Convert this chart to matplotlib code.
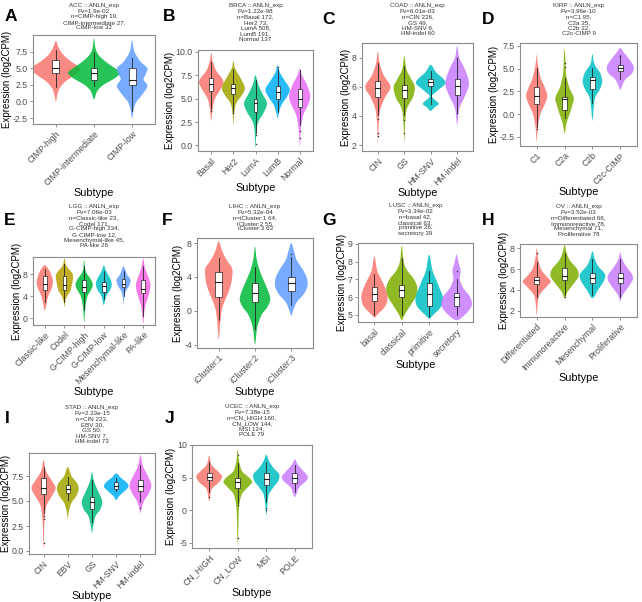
import numpy as np
import matplotlib
matplotlib.use("Agg")
import matplotlib.pyplot as plt
from matplotlib.path import Path
from matplotlib.patches import PathPatch, Rectangle

plt.rcParams['font.family'] = ['Liberation Sans', 'DejaVu Sans']

# ggplot hue palettes
pal = {
    3: ["#F8766D", "#00BA38", "#619CFF"],
    4: ["#F8766D", "#7CAE00", "#00BFC4", "#C77CFF"],
    5: ["#F8766D", "#A3A500", "#00BF7D", "#00B0F6", "#E76BF3"],
    6: ["#F8766D", "#B79F00", "#00BA38", "#00BFC4", "#619CFF", "#F564E3"],
}

# ---- A: ACC ----
acc_groups = ["CIMP-high", "CIMP-intermediate", "CIMP-low"]
acc_n = [19, 27, 32]
acc_pv = "1.9e-02"
acc_prof = [
    [(9.1, 0), (8.0, 0.08), (7.0, 0.2), (6.0, 0.4), (5.0, 0.64), (4.0, 0.5), (3.0, 0.25), (2.0, 0.1), (1.0, 0.04), (0.0, 0)],
    [(9.5, 0), (8.0, 0.04), (7.0, 0.12), (6.0, 0.3), (5.0, 0.55), (4.3, 0.68), (3.5, 0.55), (2.5, 0.25), (1.5, 0.08), (0.3, 0)],
    [(9.2, 0), (7.5, 0.06), (6.0, 0.22), (5.0, 0.4), (4.0, 0.35), (3.3, 0.3), (2.3, 0.4), (1.0, 0.26), (0.0, 0.12), (-1.0, 0.05), (-2.5, 0)],
]
acc_box = [(2.2, 4.3, 5.0, 6.2, 7.7), (2.3, 3.2, 4.3, 5.1, 7.4), (-1.5, 2.4, 3.2, 5.1, 6.5)]
acc_out = [[], [], []]

# ---- B: BRCA ----
brca_groups = ["Basal", "Her2", "LumA", "LumB", "Normal"]
brca_n = [172, 73, 508, 191, 137]
brca_pv = "1.22e-98"
brca_prof = [
    [(9.9, 0), (9.0, 0.07), (8.0, 0.22), (7.2, 0.48), (6.7, 0.55), (6.0, 0.42), (5.0, 0.17), (4.0, 0.07), (2.7, 0)],
    [(9.0, 0), (8.2, 0.08), (7.2, 0.32), (6.2, 0.52), (5.5, 0.42), (4.5, 0.13), (3.5, 0.04), (2.2, 0)],
    [(7.5, 0), (6.5, 0.12), (5.5, 0.32), (4.5, 0.52), (3.5, 0.37), (2.5, 0.12), (1.5, 0.04), (-0.3, 0)],
    [(8.6, 0), (7.8, 0.1), (7.0, 0.3), (6.0, 0.55), (5.2, 0.42), (4.3, 0.17), (3.5, 0.06), (2.9, 0)],
    [(8.2, 0), (7.5, 0.1), (6.5, 0.32), (5.3, 0.48), (4.3, 0.37), (3.3, 0.17), (2.0, 0.06), (0.5, 0.02), (-0.2, 0)],
]
brca_box = [(3.9, 5.8, 6.6, 7.2, 8.9), (3.6, 5.5, 6.1, 6.6, 8.2), (1.3, 3.6, 4.5, 5.0, 7.0),
            (3.6, 5.0, 5.7, 6.3, 8.2), (2.2, 4.1, 5.0, 6.0, 8.1)]
brca_out = [[3.7], [3.5], [0.2, 1.1], [8.4], [0.8, 1.5]]

# ---- C: COAD ----
coad_groups = ["CIN", "GS", "HM-SNV", "HM-indel"]
coad_n = [226, 49, 6, 60]
coad_pv = "6.01e-03"
coad_prof = [
    [(8.4, 0), (7.6, 0.07), (6.8, 0.22), (6.0, 0.48), (5.3, 0.28), (4.5, 0.1), (3.5, 0.03), (2.0, 0)],
    [(8.1, 0), (7.2, 0.08), (6.5, 0.27), (6.0, 0.4), (5.3, 0.33), (4.5, 0.1), (3.5, 0.03), (2.1, 0)],
    [(7.5, 0), (7.0, 0.2), (6.5, 0.5), (6.2, 0.55), (5.8, 0.3), (5.4, 0.05), (5.2, 0.1), (4.85, 0.3), (4.6, 0.15), (4.35, 0)],
    [(8.8, 0), (8.0, 0.08), (7.3, 0.27), (6.5, 0.43), (6.0, 0.43), (5.3, 0.28), (4.5, 0.08), (3.4, 0)],
]
coad_box = [(4.07, 5.33, 5.95, 6.37, 7.6), (4.07, 5.22, 5.8, 6.14, 7.4),
            (4.8, 6.07, 6.3, 6.53, 7.05), (4.2, 5.45, 6.07, 6.5, 7.98)]
coad_out = [[3.8, 2.8, 2.6], [3.7, 2.8], [], [8.0, 4.2]]

# ---- D: KIRP ----
kirp_groups = ["C1", "C2a", "C2b", "C2c-CIMP"]
kirp_n = [95, 35, 22, 9]
kirp_pv = "3.96e-10"
kirp_prof = [
    [(6.5, 0), (5.5, 0.04), (4.0, 0.14), (3.0, 0.28), (2.0, 0.38), (1.0, 0.28), (0.0, 0.13), (-1.5, 0.04), (-3.0, 0)],
    [(7.2, 0), (6.0, 0.03), (4.5, 0.05), (3.0, 0.16), (1.8, 0.33), (1.0, 0.28), (0.0, 0.18), (-1.0, 0.07), (-2.1, 0)],
    [(6.6, 0), (5.5, 0.07), (4.5, 0.28), (3.6, 0.35), (2.8, 0.28), (1.8, 0.1), (0.5, 0.04), (-0.8, 0)],
    [(7.25, 0), (6.7, 0.14), (6.0, 0.33), (5.2, 0.48), (4.5, 0.43), (3.8, 0.18), (3.2, 0.08), (2.66, 0)],
]
kirp_box = [(-1.37, 1.13, 2.04, 2.96, 5.05), (-0.45, 0.47, 1.68, 1.93, 3.95),
            (1.2, 2.74, 3.69, 4.06, 5.05), (3.84, 4.68, 5.05, 5.41, 6.5)]
kirp_out = [[-1.6], [5.6, 5.2], [], [6.4]]

# ---- E: LGG ----
lgg_groups = ["Classic-like", "Codel", "G-CIMP-high", "G-CIMP-low", "Mesenchymal-like", "PA-like"]
lgg_n = [23, 171, 234, 12, 45, 26]
lgg_pv = "7.06e-03"
lgg_prof = [
    [(9.6, 0), (8.5, 0.25), (7.0, 0.4), (6.0, 0.4), (5.0, 0.3), (4.0, 0.17), (2.5, 0.08), (1.4, 0)],
    [(10.8, 0), (9.5, 0.1), (8.0, 0.42), (6.5, 0.4), (5.0, 0.3), (4.0, 0.13), (3.0, 0.04), (2.0, 0)],
    [(10.5, 0), (8.5, 0.08), (7.0, 0.35), (6.0, 0.44), (5.0, 0.33), (4.0, 0.17), (2.0, 0.06), (-0.7, 0)],
    [(9.6, 0), (8.5, 0.12), (7.0, 0.35), (6.0, 0.4), (5.0, 0.3), (4.0, 0.12), (2.4, 0)],
    [(9.4, 0), (8.0, 0.17), (7.0, 0.35), (6.0, 0.3), (5.0, 0.13), (4.0, 0.04), (2.4, 0)],
    [(10.8, 0), (9.0, 0.1), (7.5, 0.26), (6.0, 0.37), (4.5, 0.3), (3.0, 0.17), (1.5, 0.07), (-0.9, 0)],
]
lgg_box = [(3.0, 5.2, 6.2, 7.6, 9.0), (3.0, 5.1, 6.1, 7.6, 9.8), (1.5, 4.8, 5.7, 7.0, 9.5),
           (3.5, 4.8, 5.8, 6.6, 8.5), (4.0, 5.7, 6.3, 7.2, 8.5), (0.5, 4.5, 5.4, 6.9, 9.5)]
lgg_out = [[], [], [], [], [], []]

# ---- F: LIHC ----
lihc_groups = ["iCluster:1", "iCluster:2", "iCluster:3"]
lihc_n = [64, 55, 63]
lihc_pv = "5.32e-04"
lihc_prof = [
    [(8.2, 0), (7.0, 0.1), (6.0, 0.22), (5.0, 0.37), (4.0, 0.37), (3.0, 0.33), (2.0, 0.25), (1.0, 0.15), (0.0, 0.08), (-1.5, 0.04), (-3.4, 0)],
    [(7.6, 0), (6.0, 0.05), (4.5, 0.15), (3.0, 0.3), (1.5, 0.42), (0.5, 0.35), (-0.5, 0.18), (-2.0, 0.06), (-4.0, 0)],
    [(8.0, 0), (7.0, 0.08), (6.0, 0.15), (5.0, 0.3), (4.0, 0.42), (3.0, 0.45), (2.0, 0.35), (1.0, 0.15), (0.0, 0.05), (-0.6, 0)],
]
lihc_box = [(-1.1, 1.65, 3.45, 4.6, 6.2), (-2.0, 1.0, 2.1, 3.25, 5.2), (0.7, 2.3, 3.25, 4.05, 6.3)]
lihc_out = [[], [-2.1], [6.7]]

# ---- G: LUSC ----
lusc_groups = ["basal", "classical", "primitive", "secretory"]
lusc_n = [42, 63, 26, 39]
lusc_pv = "3.34e-02"
lusc_prof = [
    [(8.3, 0), (7.5, 0.1), (7.0, 0.25), (6.5, 0.4), (6.0, 0.48), (5.5, 0.4), (5.0, 0.1), (4.85, 0)],
    [(8.9, 0), (8.0, 0.07), (7.5, 0.2), (7.0, 0.45), (6.5, 0.57), (6.0, 0.5), (5.5, 0.3), (5.0, 0.1), (4.7, 0)],
    [(8.4, 0), (7.5, 0.12), (7.0, 0.25), (6.5, 0.38), (6.0, 0.5), (5.5, 0.45), (5.0, 0.15), (4.8, 0)],
    [(8.4, 0), (7.9, 0.08), (7.5, 0.15), (7.0, 0.12), (6.5, 0.25), (6.0, 0.5), (5.5, 0.55), (5.0, 0.3), (4.7, 0)],
]
lusc_box = [(5.0, 5.8, 6.2, 6.57, 7.33), (5.0, 6.0, 6.4, 6.67, 8.2),
            (4.9, 5.5, 6.2, 6.77, 7.5), (5.0, 5.5, 6.0, 6.23, 7.0)]
lusc_out = [[], [8.1], [], [7.5]]

# ---- H: OV ----
ov_groups = ["Differentiated", "Immunoreactive", "Mesenchymal", "Proliferative"]
ov_n = [66, 78, 71, 78]
ov_pv = "3.52e-03"
ov_prof = [
    [(8.0, 0), (7.0, 0.05), (6.0, 0.15), (5.3, 0.35), (4.8, 0.5), (4.3, 0.35), (3.5, 0.1), (2.5, 0.03), (1.5, 0)],
    [(8.3, 0), (7.5, 0.08), (6.8, 0.2), (6.0, 0.45), (5.3, 0.5), (4.5, 0.3), (3.8, 0.1), (3.2, 0)],
    [(7.7, 0), (7.0, 0.08), (6.3, 0.2), (5.5, 0.45), (4.8, 0.4), (4.0, 0.2), (3.2, 0)],
    [(7.6, 0), (7.0, 0.06), (6.3, 0.2), (5.5, 0.42), (5.0, 0.45), (4.3, 0.3), (3.5, 0.08), (2.9, 0)],
]
ov_box = [(3.3, 4.57, 4.95, 5.27, 6.7), (3.5, 4.95, 5.33, 6.07, 7.5),
          (3.5, 4.64, 5.1, 5.6, 7.0), (3.3, 4.64, 5.15, 5.6, 7.0)]
ov_out = [[7.5, 1.0], [3.3], [], []]

# ---- I: STAD ----
stad_groups = ["CIN", "EBV", "GS", "HM-SNV", "HM-indel"]
stad_n = [223, 30, 50, 7, 73]
stad_pv = "2.33e-15"
stad_prof = [
    [(9.1, 0), (8.0, 0.1), (7.0, 0.35), (6.3, 0.5), (5.5, 0.35), (4.5, 0.12), (3.0, 0.04), (1.5, 0.02), (0.1, 0)],
    [(8.4, 0), (7.5, 0.15), (6.8, 0.38), (6.2, 0.45), (5.5, 0.35), (4.8, 0.15), (4.0, 0.05), (3.3, 0)],
    [(7.9, 0), (7.0, 0.08), (6.0, 0.25), (5.0, 0.42), (4.2, 0.35), (3.5, 0.15), (2.5, 0.05), (1.8, 0)],
    [(7.75, 0), (7.3, 0.2), (6.8, 0.45), (6.4, 0.5), (6.0, 0.35), (5.5, 0.12), (5.1, 0)],
    [(9.6, 0), (8.5, 0.1), (7.5, 0.3), (6.6, 0.45), (5.8, 0.35), (5.0, 0.15), (4.3, 0.05), (3.8, 0)],
]
stad_box = [(3.77, 5.7, 6.27, 7.27, 8.4), (5.1, 5.77, 6.17, 6.6, 7.43), (2.93, 4.17, 4.93, 5.43, 7.1),
            (6.0, 6.17, 6.5, 6.87, 7.27), (4.93, 6.03, 6.53, 7.1, 8.6)]
stad_out = [[3.5, 3.2, 0.8], [], [], [], [4.3]]

# ---- J: UCEC ----
ucec_groups = ["CN_HIGH", "CN_LOW", "MSI", "POLE"]
ucec_n = [160, 144, 124, 79]
ucec_pv = "7.38e-15"
ucec_prof = [
    [(8.4, 0), (7.0, 0.08), (6.0, 0.3), (5.2, 0.45), (4.3, 0.35), (3.3, 0.1), (2.3, 0.04), (1.3, 0)],
    [(9.3, 0), (7.5, 0.05), (6.0, 0.15), (5.0, 0.4), (4.3, 0.5), (3.5, 0.35), (2.5, 0.15), (1.0, 0.06), (-1.0, 0.03), (-3.0, 0.02), (-5.4, 0)],
    [(8.5, 0), (7.5, 0.1), (6.5, 0.25), (5.5, 0.45), (4.5, 0.42), (3.5, 0.25), (2.5, 0.1), (1.0, 0.04), (-0.8, 0)],
    [(7.8, 0), (7.0, 0.1), (6.0, 0.3), (5.2, 0.45), (4.5, 0.4), (3.5, 0.15), (2.5, 0.06), (2.0, 0)],
]
ucec_box = [(2.85, 4.65, 5.15, 5.77, 7.45), (1.1, 3.37, 4.4, 4.9, 7.2),
            (1.3, 3.88, 4.75, 5.67, 7.45), (2.85, 4.14, 4.9, 5.67, 6.94)]
ucec_out = [[2.0], [-4.3, 8.5, 0.8], [0.4, 0.0], []]


def closed_curve(pts):
    # Catmull-Rom through the outline points, drawn as bezier path
    n = len(pts)
    verts = [pts[0]]
    codes = [Path.MOVETO]
    for i in range(n):
        p0, p1, p2, p3 = pts[(i - 1) % n], pts[i], pts[(i + 1) % n], pts[(i + 2) % n]
        verts += [p1 + (p2 - p0) / 6, p2 - (p3 - p1) / 6, p2]
        codes += [Path.CURVE4] * 3
    return Path(verts, codes)


def draw_panel(ax, groups, prof, box, out, ylim, yticks):
    cols = pal[len(groups)]
    bw = 0.18
    for i, g in enumerate(groups):
        x = i + 1
        p = sorted(prof[i])
        right = [(x + w, y) for y, w in p]
        left = [(x - w, y) for y, w in p[::-1]][1:-1]
        pts = np.array(right + left, dtype=float)
        ax.add_patch(PathPatch(closed_curve(pts), fc=cols[i], ec='none', alpha=0.85, zorder=1))
        lo, q1, med, q3, hi = box[i]
        ax.plot([x, x], [lo, hi], color='#222222', lw=0.6, zorder=2)
        ax.add_patch(Rectangle((x - bw / 2, q1), bw, q3 - q1, fc='white', ec='#222222', lw=0.5, zorder=3))
        ax.plot([x - bw / 2, x + bw / 2], [med, med], color='#222222', lw=0.8, zorder=4)
        if out[i]:
            ax.scatter([x] * len(out[i]), out[i], s=1.2, c='#333333', zorder=2, linewidths=0)
    ax.set_xlim(0.4, len(groups) + 0.6)
    ax.set_ylim(ylim)
    ax.set_xticks(range(1, len(groups) + 1))
    ax.set_xticklabels(groups, rotation=45, ha='right', rotation_mode='anchor')
    ax.set_yticks(yticks)
    if any(t != int(t) for t in yticks):
        ax.set_yticklabels(["%.1f" % t for t in yticks])
    else:
        ax.set_yticklabels(["%d" % t for t in yticks])
    ax.tick_params(labelsize=6.3, colors='#7F7F7F', labelcolor='#4D4D4D', length=2.5, width=0.6, pad=1.2)
    for s in ax.spines.values():
        s.set_color('#8C8C8C')
        s.set_linewidth(0.8)
    ax.set_xlabel("Subtype", fontsize=7.8, labelpad=0.5)
    ax.set_ylabel("Expression (log2CPM)", fontsize=7.0, labelpad=0.5)


W, H = 642, 602
fig = plt.figure(figsize=(W / 100, H / 100), dpi=100)


def add_axes(l, t, r, b):
    return fig.add_axes([l / W, 1 - b / H, (r - l) / W, (b - t) / H])


def make_title(code, pv, groups, n):
    parts = ["%s %d" % (g, k) for g, k in zip(groups, n)]
    return "%s :: ANLN_exp\nPv=%s\nn=" % (code, pv) + ",\n".join(parts)


# letter, axes box (l, t, r, b) px, letter pos px, title top px, ...
panels = [
    ("A", (33, 35, 155, 124), (5, 9), 3, "ACC", acc_groups, acc_n, acc_pv, acc_prof, acc_box, acc_out, (-3.4, 10.0), [-2.5, 0, 2.5, 5, 7.5]),
    ("B", (198, 50, 313, 151), (163, 9), 3, "BRCA", brca_groups, brca_n, brca_pv, brca_prof, brca_box, brca_out, (-0.6, 10.2), [0, 2.5, 5, 7.5, 10]),
    ("C", (362, 43, 473, 151), (322, 12), 3, "COAD", coad_groups, coad_n, coad_pv, coad_prof, coad_box, coad_out, (1.6, 9.0), [2, 4, 6, 8]),
    ("D", (520, 43, 637, 146), (482, 12), 3, "KIRP", kirp_groups, kirp_n, kirp_pv, kirp_prof, kirp_box, kirp_out, (-3.5, 7.8), [-2.5, 0, 2.5, 5, 7.5]),
    ("E", (33, 257, 155, 325), (4, 213), 204, "LGG", lgg_groups, lgg_n, lgg_pv, lgg_prof, lgg_box, lgg_out, (-1.2, 11.1), [0, 4, 8]),
    ("F", (197, 238, 313, 348), (162, 213), 204, "LIHC", lihc_groups, lihc_n, lihc_pv, lihc_prof, lihc_box, lihc_out, (-4.4, 8.6), [-4, 0, 4, 8]),
    ("G", (358, 243, 473, 322), (322, 213), 203, "LUSC", lusc_groups, lusc_n, lusc_pv, lusc_prof, lusc_box, lusc_out, (4.6, 9.05), [5, 6, 7, 8, 9]),
    ("H", (520, 244, 637, 317), (482, 213), 204, "OV", ov_groups, ov_n, ov_pv, ov_prof, ov_box, ov_out, (1.4, 8.4), [2, 4, 6, 8]),
    ("I", (29, 453, 155, 554), (5, 411), 405, "STAD", stad_groups, stad_n, stad_pv, stad_prof, stad_box, stad_out, (-0.3, 9.8), [0, 2.5, 5, 7.5]),
    ("J", (192, 445, 312, 548), (165, 411), 404, "UCEC", ucec_groups, ucec_n, ucec_pv, ucec_prof, ucec_box, ucec_out, (-5.8, 10.0), [-5, 0, 5, 10]),
]

for letter, rect, lpos, ttop, code, groups, n, pv, prof, box, out, ylim, yticks in panels:
    ax = add_axes(*rect)
    draw_panel(ax, groups, prof, box, out, ylim, yticks)
    cx = (rect[0] + rect[2]) / 2
    fig.text(cx / W, 1 - ttop / H, make_title(code, pv, groups, n), ha='center', va='top',
             fontsize=4.5, linespacing=1.15, color='#333333')
    fig.text(lpos[0] / W, 1 - lpos[1] / H, letter, fontsize=12.5, fontweight='bold', va='top', ha='left')

fig.savefig("out.png", dpi=100)
